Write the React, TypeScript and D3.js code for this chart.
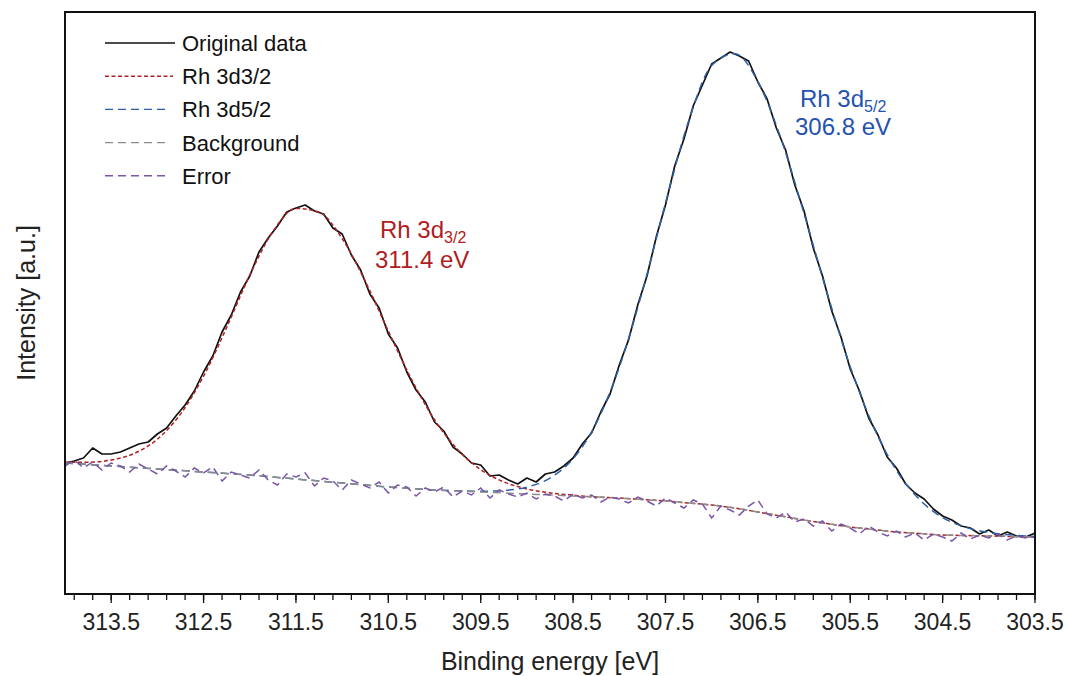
import React from "react";
import * as d3 from "d3";

// Binding energy grids (eV)
const energyFine: number[] = [
  314.0, 313.9, 313.8, 313.7, 313.6, 313.5, 313.4, 313.3, 313.2, 313.1,
  313.0, 312.9, 312.8, 312.7, 312.6, 312.5, 312.4, 312.3, 312.2, 312.1,
  312.0, 311.9, 311.8, 311.7, 311.6, 311.5, 311.4, 311.3, 311.2, 311.1,
  311.0, 310.9, 310.8, 310.7, 310.6, 310.5, 310.4, 310.3, 310.2, 310.1,
  310.0, 309.9, 309.8, 309.7, 309.6, 309.5, 309.4, 309.3, 309.2, 309.1,
  309.0, 308.9, 308.8, 308.7, 308.6, 308.5, 308.4, 308.3, 308.2, 308.1,
  308.0, 307.9, 307.8, 307.7, 307.6, 307.5, 307.4, 307.3, 307.2, 307.1,
  307.0, 306.9, 306.8, 306.7, 306.6, 306.5, 306.4, 306.3, 306.2, 306.1,
  306.0, 305.9, 305.8, 305.7, 305.6, 305.5, 305.4, 305.3, 305.2, 305.1,
  305.0, 304.9, 304.8, 304.7, 304.6, 304.5, 304.4, 304.3, 304.2, 304.1,
  304.0, 303.9, 303.8, 303.7, 303.6, 303.5,
];

const energyCoarse: number[] = [
  314.0, 313.75, 313.5, 313.25, 313.0, 312.75, 312.5, 312.25, 312.0, 311.75,
  311.5, 311.25, 311.0, 310.75, 310.5, 310.25, 310.0, 309.75, 309.5, 309.25,
  309.0, 308.75, 308.5, 308.25, 308.0, 307.75, 307.5, 307.25, 307.0, 306.75,
  306.5, 306.25, 306.0, 305.75, 305.5, 305.25, 305.0, 304.75, 304.5, 304.25,
  304.0, 303.75, 303.5,
];

// Intensity (a.u.)
const originalData: number[] = [
  131, 133, 136, 146, 140, 140, 142, 146, 150, 152,
  160, 166, 178, 189, 203, 222, 238, 262, 279, 302,
  318, 342, 356, 368, 382, 386, 389, 383, 380, 366,
  360, 339, 324, 300, 286, 260, 246, 222, 204, 192,
  172, 163, 147, 140, 131, 129, 118, 119, 114, 110,
  116, 112, 120, 122, 128, 136, 150, 161, 182, 200,
  229, 254, 289, 318, 357, 389, 428, 455, 488, 509,
  530, 536, 542, 538, 533, 512, 495, 466, 444, 409,
  383, 346, 318, 283, 257, 225, 203, 176, 159, 137,
  126, 110, 101, 95, 85, 78, 74, 68, 66, 60,
  64, 58, 62, 58, 57, 61,
];

const rh3d32Fit: number[] = [
  131.8, 131.8, 134, 140.6, 154.8, 179.9, 217.8, 266.6, 318.9, 362.4,
  385.6, 381.8, 355.4, 312.8, 262.9, 214.8, 174.3, 144.5, 124.4, 112.1,
  105.1, 101.1, 98.8, 97, 96, 94.5, 93, 91, 89, 86,
  82, 78, 74, 70.5, 67, 64.5, 62, 60.5, 59, 58.5,
  58, 57.5, 57,
];

const rh3d52Fit: number[] = [
  131, 129.5, 128, 126.5, 125, 123.5, 122, 120.5, 119, 117,
  115, 113, 111, 109, 107, 105.5, 104, 103.2, 102.8, 103.5,
  106.9, 115.9, 135.3, 170.7, 226.8, 302.8, 390.7, 472.8, 528.5, 540.3,
  512.4, 455.5, 380.5, 300.9, 227.3, 167.8, 123.6, 94.5, 76.4, 66.7,
  61.6, 59.0, 57.5,
];

const backgroundFit: number[] = [
  131, 129.5, 128, 126.5, 125, 123.5, 122, 120.5, 119, 117,
  115, 113, 111, 109, 107, 105.5, 104, 103, 102, 101,
  100, 99, 98, 97, 96, 94.5, 93, 91, 89, 86,
  82, 78, 74, 70.5, 67, 64.5, 62, 60.5, 59, 58.5,
  58, 57.5, 57,
];

const errorData: number[] = [
  128, 134, 126, 132, 124, 131, 128, 122, 130, 125,
  120, 128, 123, 117, 126, 121, 127, 113, 122, 119,
  116, 124, 114, 109, 120, 117, 121, 108, 116, 113,
  104, 114, 110, 106, 112, 101, 109, 107, 98, 106,
  102, 107, 97, 103, 99, 106, 96, 104, 100, 97,
  101, 95, 100, 98, 93, 100, 96, 99, 92, 97,
  95, 91, 97, 93, 88, 96, 91, 86, 94, 90,
  76, 88, 84, 79, 88, 94, 80, 76, 82, 72,
  75, 68, 73, 63, 70, 66, 60, 68, 62, 58,
  63, 57, 61, 54, 60, 57, 53, 61, 55, 59,
  56, 60, 54, 58, 56, 57,
];

const xTickLabels: string[] = [
  "313.5", "312.5", "311.5", "310.5", "309.5", "308.5",
  "307.5", "306.5", "305.5", "304.5", "303.5",
];

const legendItems = [
  { label: "Original data", color: "#111111", dash: "", len: 70, width: 1.6 },
  { label: "Rh 3d3/2", color: "#b22222", dash: "4,2.5", len: 68, width: 1.4 },
  { label: "Rh 3d5/2", color: "#2f5fa6", dash: "8,5", len: 62, width: 1.4 },
  { label: "Background", color: "#8c8c8c", dash: "8,5", len: 62, width: 1.4 },
  { label: "Error", color: "#7a55a8", dash: "8,5", len: 62, width: 1.4 },
];

const FONT = "'Liberation Sans', Arial, Helvetica, sans-serif";

export default function App() {
  const W = 1069;
  const H = 676;
  const left = 65, right = 1035, top = 12, bottom = 594;

  const x = d3.scaleLinear().domain([314.0, 303.5]).range([left, right]);
  const y = d3.scaleLinear().domain([0, 582]).range([bottom, top]);

  const rawLine = d3
    .line<number>()
    .x((_, i) => x(energyFine[i]))
    .y((d) => y(d))
    .curve(d3.curveLinear);

  const smoothLine = d3
    .line<number>()
    .x((_, i) => x(energyCoarse[i]))
    .y((d) => y(d))
    .curve(d3.curveMonotoneX);

  const majorTicks = xTickLabels.map((t) => parseFloat(t));
  const minorTicks = d3.range(0, 53).map((i) => 303.5 + i * 0.2);

  return (
    <svg
      width={W}
      height={H}
      style={{ position: "absolute", left: 0, top: 0, background: "#fff" }}
      fontFamily={FONT}
    >
      <rect x={0} y={0} width={W} height={H} fill="#fff" />
      <defs>
        <clipPath id="plotClip">
          <rect x={left} y={top} width={right - left} height={bottom - top} />
        </clipPath>
      </defs>

      <g clipPath="url(#plotClip)">
        <path d={rawLine(originalData) || ""} fill="none" stroke="#111" strokeWidth={1.7} strokeLinejoin="round" />
        <path d={smoothLine(rh3d32Fit) || ""} fill="none" stroke="#b22222" strokeWidth={1.5} strokeDasharray="4,2.5" />
        <path d={smoothLine(rh3d52Fit) || ""} fill="none" stroke="#2f5fa6" strokeWidth={1.5} strokeDasharray="8,5" />
        <path d={smoothLine(backgroundFit) || ""} fill="none" stroke="#8c8c8c" strokeWidth={1.5} strokeDasharray="8,5" />
        <path d={rawLine(errorData) || ""} fill="none" stroke="#7a55a8" strokeWidth={1.5} strokeDasharray="8,5" />
      </g>

      {/* frame */}
      <rect x={left} y={top} width={right - left} height={bottom - top} fill="none" stroke="#111" strokeWidth={2} />

      {/* ticks */}
      {minorTicks.map((t, i) => (
        <line key={"mi" + i} x1={x(t)} x2={x(t)} y1={bottom} y2={bottom + 6} stroke="#111" strokeWidth={1.3} />
      ))}
      {majorTicks.map((t, i) => (
        <line key={"ma" + i} x1={x(t)} x2={x(t)} y1={bottom} y2={bottom + 9} stroke="#111" strokeWidth={1.3} />
      ))}
      {majorTicks.map((t, i) => (
        <text key={"tl" + i} x={x(t)} y={630} textAnchor="middle" fontSize={23} fill="#222">
          {xTickLabels[i]}
        </text>
      ))}

      {/* axis titles */}
      <text x={(left + right) / 2} y={670} textAnchor="middle" fontSize={25} fill="#222">
        Binding energy [eV]
      </text>
      <text transform={`translate(35, 303) rotate(-90)`} textAnchor="middle" fontSize={25} fill="#222">
        Intensity [a.u.]
      </text>

      {/* legend */}
      {legendItems.map((it, i) => {
        const cy = 43 + i * 33.2;
        return (
          <g key={"lg" + i}>
            <line x1={105} x2={105 + it.len} y1={cy} y2={cy} stroke={it.color} strokeWidth={it.width} strokeDasharray={it.dash || undefined} />
            <text x={182} y={cy + 8} fontSize={22} fill="#111">
              {it.label}
            </text>
          </g>
        );
      })}

      {/* peak annotations */}
      <text x={380} y={238} fontSize={24} fill="#b01c22">
        Rh 3d<tspan fontSize={16} dy={5}>3/2</tspan>
      </text>
      <text x={375} y={268} fontSize={24} fill="#b01c22">
        311.4 eV
      </text>
      <text x={800} y={107} fontSize={24} fill="#2452b0">
        Rh 3d<tspan fontSize={16} dy={5}>5/2</tspan>
      </text>
      <text x={795} y={135} fontSize={24} fill="#2452b0">
        306.8 eV
      </text>
    </svg>
  );
}
